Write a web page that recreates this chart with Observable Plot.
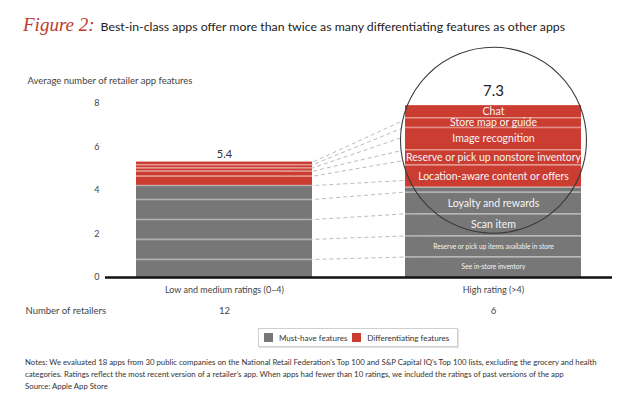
<!DOCTYPE html>
<html>
<head>
<meta charset="utf-8">
<script src="https://cdn.jsdelivr.net/npm/d3@7"></script>
<script src="https://cdn.jsdelivr.net/npm/@observablehq/plot@0.6"></script>
<style>
  html, body { margin: 0; padding: 0; background: #fff; }
  #wrap { position: relative; width: 640px; height: 399px; overflow: hidden; font-family: Lato, "Open Sans", sans-serif; color: #333; }
  #title { position: absolute; left: 23px; top: 14px; line-height: 22px; white-space: nowrap; }
  #title .fig { font-family: "Liberation Serif", "DejaVu Serif", serif; font-style: italic; color: #c0392b; font-size: 19px; }
  #title .txt { font-size: 12.3px; color: #222; margin-left: 6px; }
  #chart { position: absolute; left: 0; top: 40px; }
  #legend { position: absolute; left: 258px; top: 328px; width: 198px; height: 17px; border: 1px solid #cfcfcf; box-shadow: 1px 1px 1px #e4e4e4; display: flex; align-items: center; font-size: 8px; color: #333; white-space: nowrap; }
  #legend .sw { width: 9px; height: 9px; display: inline-block; }
  #notes { position: absolute; left: 25px; top: 356px; font-size: 7.8px; line-height: 12px; color: #333; white-space: nowrap; }
</style>
</head>
<body>
<div id="wrap">
  <div id="title"><span class="fig">Figure 2:</span><span class="txt">Best-in-class apps offer more than twice as many differentiating features as other apps</span></div>
  <div id="chart"></div>
  <div id="legend"></div>
  <div id="notes">Notes: We evaluated 18 apps from 30 public companies on the National Retail Federation’s Top 100 and S&amp;P Capital IQ’s Top 100 lists, excluding the grocery and health<br>categories. Ratings reflect the most recent version of a retailer’s app. When apps had fewer than 10 ratings, we included the ratings of past versions of the app<br>Source: Apple App Store</div>
</div>
<script>
// ---------- data ----------
const categories = ["Low and medium ratings (0–4)", "High rating (>4)"];
const totals = [5.4, 7.3];
const retailers = [12, 6];
const types = ["Must-have features", "Differentiating features"];
const features = [
  "See in-store inventory",
  "Reserve or pick up items available in store",
  "Scan item",
  "Loyalty and rewards",
  "",
  "Location-aware content or offers",
  "Reserve or pick up nonstore inventory",
  "Image recognition",
  "Store map or guide",
  "Chat"
];
const featureType = [0, 0, 0, 0, 0, 1, 1, 1, 1, 1];
// segment heights as drawn (bottom to top); the right bar is drawn magnified
const lowValues  = [0.83, 0.92, 0.91, 0.92, 0.64, 0.43, 0.23, 0.15, 0.15, 0.12];
const highValues = [0.94, 0.96, 1.01, 1.00, 0.23, 1.02, 0.71, 1.02, 0.45, 0.55];
// where each dashed connector meets the magnified (right) bar
const connectorRight = [0.94, 1.91, 2.92, 3.92, 4.46, 5.38, 5.87, 6.48, 6.91, 7.25];
const yTicks = [0, 2, 4, 6, 8];
const yLabel = "Average number of retailer app features";
const countLabel = "Number of retailers";
const colors = ["#777777", "#cc3d31"];

// ---------- derived tables ----------
const segments = categories.flatMap((c, ci) => {
  const vals = ci === 0 ? lowValues : highValues;
  let acc = 0;
  return vals.map((v, i) => ({category: c, ci, index: i, feature: features[i], type: types[featureType[i]], y1: acc, y2: (acc += v)}));
});
const tops = categories.map((c, ci) => ({category: c, ci, top: d3.sum(ci === 0 ? lowValues : highValues), label: totals[ci].toFixed(1)}));
const counts = categories.map((c, i) => ({category: c, n: retailers[i]}));

const paddingInner = 0.344, paddingOuter = 0.111;
const k = (1 - paddingInner) / (2 * paddingInner); // half-band / gap ratio
const lowCum = d3.cumsum(lowValues);
const connectors = Array.from(lowCum, (L, i) => {
  const R = connectorRight[i];
  return {y1: L - (R - L) * k, y2: R + (R - L) * k};
});

const chart = Plot.plot({
  width: 640,
  height: 285,
  marginTop: 62.75,
  marginBottom: 48,
  marginLeft: 105,
  marginRight: 28,
  style: {fontFamily: "Lato, 'Open Sans', sans-serif", fontSize: "9px", color: "#444", background: "white", overflow: "visible"},
  x: {domain: categories, paddingInner, paddingOuter, align: 0.5, tickSize: 0, tickPadding: 9, label: null},
  y: {domain: [0, 8], ticks: yTicks, tickSize: 0, tickPadding: 6, label: null, tickFormat: d => String(d)},
  color: {domain: types, range: colors},
  marks: [
    Plot.link(connectors, {x1: () => categories[0], x2: () => categories[1], y1: "y1", y2: "y2", stroke: "#b3b3b3", strokeWidth: 0.9, strokeDasharray: "4,3"}),
    Plot.dot([categories[1]], {x: d => d, y: () => 6.3, r: 93, fill: "white", stroke: "none"}),
    Plot.barY(segments, {x: "category", y1: "y1", y2: "y2", fill: "type"}),
    Plot.tickY(segments.filter(d => d.index > 0), {x: "category", y: "y1", stroke: "white", strokeOpacity: 0.42, strokeWidth: 1.5}),
    Plot.dot([categories[1]], {x: d => d, y: () => 6.3, r: 93, fill: "none", stroke: "#3a3a3a", strokeWidth: 1.1}),
    Plot.text(segments.filter(d => d.ci === 1 && d.feature && d.index >= 2), {x: "category", y: d => (d.y1 + d.y2) / 2, text: "feature", fill: "#f5f5f5", fontSize: 10.5}),
    Plot.text(segments.filter(d => d.ci === 1 && d.feature && d.index < 2), {x: "category", y: d => (d.y1 + d.y2) / 2, text: "feature", fill: "#f5f5f5", fontSize: 6.6}),
    Plot.text(tops.filter(d => d.ci === 0), {x: "category", y: "top", text: "label", dy: -8, fontSize: 11, fill: "#333"}),
    Plot.text(tops.filter(d => d.ci === 1), {x: "category", y: "top", text: "label", dy: -14, fontSize: 15, fill: "#222"}),
    Plot.ruleY([0], {stroke: "#111", strokeWidth: 2.5}),
    Plot.text(counts, {x: "category", text: d => String(d.n), frameAnchor: "bottom", dy: 36, fontSize: 9.5, fill: "#444"}),
    Plot.text([countLabel], {text: d => d, frameAnchor: "bottom-left", dx: -80, dy: 36, textAnchor: "start", fontSize: 9.5, fill: "#444"}),
    Plot.text([yLabel], {text: d => d, frameAnchor: "top-left", dx: -78, dy: -26, textAnchor: "start", fontSize: 9.5, fill: "#444"})
  ]
});
document.getElementById("chart").appendChild(chart);

// legend
const legend = document.getElementById("legend");
types.forEach((t, i) => {
  const sw = document.createElement("span");
  sw.className = "sw";
  sw.style.background = colors[i];
  sw.style.marginLeft = "5px";
  sw.style.marginRight = "6px";
  const tx = document.createElement("span");
  tx.textContent = t;
  legend.appendChild(sw);
  legend.appendChild(tx);
});
</script>
</body>
</html>
